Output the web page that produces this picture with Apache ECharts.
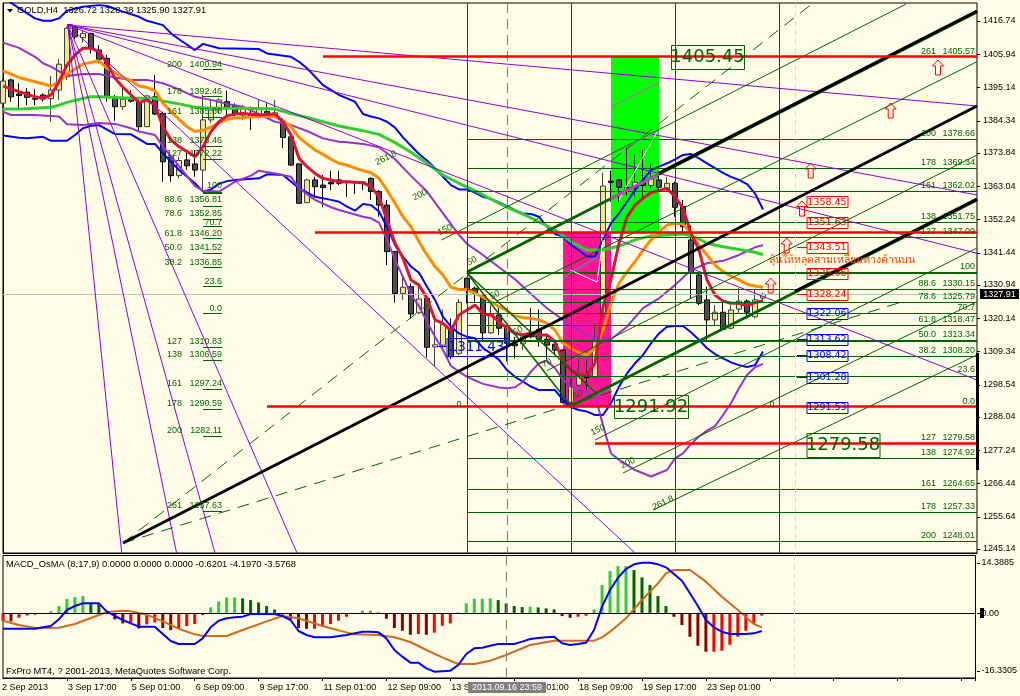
<!DOCTYPE html>
<html>
<head>
<meta charset="utf-8">
<style>html,body{margin:0;padding:0;background:#fffde8}#c{width:1020px;height:696px}</style>
<script src="https://cdn.jsdelivr.net/npm/echarts@6/dist/echarts.min.js"></script>
</head>
<body>
<div id="c"></div>
<script>
// [open, close, low, high], one row per H4 bar
const candles = [
[1390.0,1397.2,1388.4,1398.1],[1397.6,1392.1,1390.5,1398.0],[1393.0,1392.5,1388.4,1396.5],[1393.6,1391.9,1389.4,1394.9],
[1391.5,1391.3,1389.4,1394.5],[1392.7,1391.4,1390.5,1393.2],[1391.5,1394.3,1384.0,1398.9],[1394.3,1402.7,1391.1,1404.3],
[1398.6,1414.4,1397.6,1414.9],[1414.9,1411.6,1410.8,1415.4],[1411.3,1412.7,1409.7,1413.8],[1412.7,1407.9,1406.2,1413.0],
[1407.3,1404.3,1403.0,1408.9],[1404.6,1392.1,1390.5,1405.7],[1391.6,1388.9,1384.3,1392.7],[1388.9,1391.3,1387.8,1395.4],
[1391.5,1390.7,1390.2,1394.3],[1390.5,1382.4,1380.8,1392.1],[1382.4,1392.4,1382.2,1392.7],[1392.1,1386.5,1386.2,1399.2],
[1386.7,1371.0,1364.5,1387.3],[1372.6,1366.5,1364.5,1373.2],[1366.5,1371.4,1365.6,1372.6],[1371.6,1369.7,1368.3,1374.8],
[1370.3,1368.3,1366.1,1374.8],[1368.3,1384.6,1361.3,1392.7],[1384.6,1387.8,1383.5,1391.1],[1387.8,1391.1,1386.7,1391.6],
[1390.5,1388.7,1386.2,1394.1],[1389.1,1386.7,1385.7,1390.0],[1386.2,1388.4,1384.6,1389.4],[1386.7,1385.7,1381.3,1388.9],
[1386.2,1388.4,1385.1,1391.1],[1387.3,1386.2,1385.7,1390.0],[1385.9,1386.9,1385.7,1391.1],[1384.0,1378.9,1375.4,1385.1],
[1379.1,1369.9,1369.7,1380.8],[1370.3,1357.5,1357.4,1370.5],[1357.7,1365.1,1357.5,1365.6],[1365.1,1362.9,1359.6,1366.1],
[1363.4,1362.6,1356.2,1366.7],[1364.3,1363.8,1361.8,1368.1],[1365.1,1364.0,1363.4,1368.1],[1364.4,1364.2,1359.6,1364.5],
[1364.4,1364.2,1360.5,1364.5],[1364.4,1364.2,1361.8,1364.6],[1365.6,1361.3,1358.6,1365.9],[1361.3,1356.9,1353.1,1361.8],
[1356.9,1341.8,1337.4,1358.6],[1341.8,1328.2,1325.2,1342.0],[1328.2,1330.2,1326.1,1333.4],[1330.4,1321.5,1319.9,1331.5],
[1321.9,1326.4,1321.5,1330.9],[1326.6,1310.7,1307.4,1328.2],[1310.8,1311.5,1304.6,1319.6],[1311.4,1318.2,1309.8,1323.0],
[1316.3,1307.6,1306.8,1320.1],[1308.7,1325.3,1308.2,1326.3],[1333.1,1329.6,1325.0,1333.4],[1329.9,1327.9,1325.5,1330.4],
[1327.7,1315.4,1313.1,1328.0],[1315.4,1321.5,1315.0,1324.4],[1321.2,1316.9,1314.7,1324.4],[1317.2,1312.0,1306.0,1317.9],
[1311.8,1311.2,1307.1,1314.1],[1311.8,1314.1,1309.8,1315.2],[1315.0,1314.1,1313.6,1323.4],[1316.5,1313.3,1310.9,1323.0],
[1313.3,1311.4,1306.6,1314.7],[1311.7,1309.8,1308.2,1313.1],[1309.8,1292.8,1292.5,1310.0],[1292.8,1297.9,1292.5,1301.1],
[1298.4,1301.4,1297.9,1307.1],[1301.4,1300.9,1296.8,1306.6],[1301.1,1312.5,1300.6,1318.5],[1321.8,1363.1,1321.0,1367.4],
[1364.7,1364.3,1358.0,1368.1],[1365.1,1362.7,1358.0,1365.3],[1362.6,1361.8,1360.2,1375.4],[1362.4,1364.3,1359.6,1373.2],
[1364.3,1363.3,1359.6,1374.8],[1363.3,1365.4,1362.4,1370.5],[1365.1,1362.7,1361.3,1367.8],[1362.0,1364.0,1361.3,1366.1],
[1364.0,1356.2,1353.1,1364.5],[1356.4,1349.9,1347.7,1358.6],[1345.6,1334.7,1326.6,1350.3],[1334.2,1325.0,1324.4,1334.7],
[1326.1,1319.6,1313.1,1330.4],[1319.6,1322.1,1317.9,1324.4],[1322.1,1316.5,1316.3,1326.1],[1316.9,1322.8,1316.5,1324.4],
[1323.1,1325.7,1321.9,1329.9],[1325.7,1322.1,1320.1,1326.3],[1320.6,1326.1,1320.1,1329.3],[1326.72,1327.91,1325.90,1328.38]
];

// indicator readings as [bar, price]
const maRed = [[0,1395.6],[2,1393.8],[4,1392.1],[5,1391.6],[6,1392.7],[7,1397.0],[8,1402.4],[9,1405.7],[10,1407.9],[11,1407.9],[12,1406.8],[13,1403.0],[14,1398.1],[15,1395.2],[16,1392.7],[17,1390.2],[18,1391.1],[19,1389.4],[20,1382.4],[21,1378.1],[22,1375.9],[23,1374.3],[24,1372.6],[25,1375.9],[26,1380.8],[27,1384.0],[28,1385.9],[29,1386.5],[30,1386.7],[32,1386.2],[34,1386.5],[35,1384.0],[36,1379.7],[37,1372.1],[38,1369.4],[39,1367.2],[40,1365.6],[42,1364.5],[43,1364.5],[45,1364.2],[46,1362.9],[47,1359.6],[48,1352.1],[49,1344.5],[50,1339.6],[51,1332.6],[52,1330.9],[53,1326.6],[54,1319.6],[55,1318.5],[56,1316.1],[57,1321.2],[58,1322.8],[59,1324.4],[60,1321.5],[61,1321.2],[62,1319.0],[63,1316.9],[64,1315.2],[65,1314.7],[66,1315.4],[67,1314.7],[68,1314.7],[69,1312.5],[70,1306.0],[71,1303.3],[72,1301.9],[73,1301.7],[74,1305.5],[75,1323.9],[76,1332.6],[77,1344.5],[78,1353.1],[79,1356.9],[80,1359.1],[81,1361.0],[82,1361.6],[83,1362.4],[84,1359.6],[85,1355.9],[86,1347.7],[87,1342.3],[88,1332.6],[89,1327.7],[90,1325.7],[91,1325.0],[92,1325.0],[93,1324.2],[94,1325.2],[95,1325.8]];
const maOrange = [[0,1400.5],[2,1398.4],[4,1397.0],[6,1395.6],[7,1397.0],[8,1399.5],[9,1401.1],[10,1402.8],[11,1403.3],[12,1403.8],[13,1401.4],[14,1399.9],[15,1398.4],[16,1397.3],[17,1395.6],[18,1395.1],[19,1394.1],[20,1390.0],[21,1387.3],[22,1384.8],[23,1382.4],[24,1380.8],[25,1381.3],[26,1382.2],[27,1383.7],[28,1384.8],[29,1385.3],[30,1385.4],[32,1385.7],[34,1385.7],[35,1384.3],[36,1382.4],[37,1378.9],[38,1376.8],[39,1374.8],[40,1373.4],[41,1371.8],[42,1370.5],[43,1369.9],[44,1368.9],[45,1368.1],[46,1367.4],[47,1365.6],[48,1361.8],[49,1357.5],[50,1353.1],[51,1349.9],[52,1345.0],[53,1340.7],[54,1336.9],[55,1334.2],[56,1330.2],[57,1329.5],[58,1329.5],[59,1328.2],[60,1327.1],[61,1325.5],[62,1323.9],[63,1322.6],[64,1320.9],[65,1320.3],[66,1320.1],[67,1319.6],[68,1318.5],[69,1316.3],[70,1312.0],[71,1310.4],[72,1308.9],[73,1308.2],[74,1310.4],[75,1316.3],[76,1325.0],[77,1331.5],[78,1335.3],[79,1338.5],[80,1342.3],[81,1345.6],[82,1348.3],[83,1350.4],[84,1351.0],[85,1350.8],[86,1347.7],[87,1343.9],[88,1340.7],[89,1337.4],[90,1335.3],[91,1333.9],[92,1332.6],[93,1331.2],[94,1330.6],[95,1330.2]];
const maGreen = [[0,1388.1],[2,1388.1],[4,1388.4],[6,1388.7],[7,1389.4],[8,1390.3],[10,1391.6],[11,1392.1],[12,1392.1],[14,1391.9],[16,1391.6],[19,1391.6],[20,1390.7],[22,1389.8],[24,1388.7],[26,1388.4],[30,1388.4],[34,1388.1],[36,1386.7],[38,1385.4],[40,1384.0],[42,1382.6],[45,1381.1],[47,1379.9],[49,1377.2],[51,1374.1],[53,1370.5],[55,1366.7],[57,1364.0],[59,1361.6],[61,1358.8],[63,1356.2],[65,1354.0],[67,1351.5],[69,1348.8],[71,1345.0],[73,1342.3],[75,1342.3],[77,1343.6],[79,1345.6],[81,1346.9],[83,1347.2],[85,1347.5],[86,1346.9],[87,1345.9],[88,1344.5],[90,1343.4],[92,1342.5],[94,1341.6],[95,1340.8]];
const bandPurpleUp = [[0,1409.7],[2,1408.0],[4,1405.1],[5,1403.0],[6,1401.9],[8,1398.9],[10,1399.5],[12,1399.5],[14,1398.4],[16,1397.6],[18,1397.6],[20,1396.5],[22,1394.5],[24,1392.1],[26,1391.1],[28,1389.8],[30,1388.9],[32,1386.5],[34,1384.0],[36,1382.9],[38,1381.0],[40,1378.6],[42,1377.5],[43,1377.3],[45,1376.8],[47,1375.7],[49,1371.8],[51,1366.4],[53,1361.3],[55,1354.2],[57,1347.2],[58,1344.3],[60,1340.7],[62,1336.7],[64,1332.8],[66,1328.0],[68,1323.4],[70,1319.6],[72,1316.1],[74,1313.6],[75,1313.3],[76,1313.3],[78,1317.4],[80,1323.4],[82,1326.6],[84,1330.9],[86,1335.8],[88,1338.0],[90,1338.8],[92,1340.7],[94,1343.2],[95,1343.9]];
const bandPurpleLow = [[0,1387.3],[1,1386.2],[4,1386.2],[7,1385.7],[8,1383.2],[10,1382.9],[12,1383.6],[14,1383.3],[16,1381.9],[17,1380.8],[19,1379.7],[20,1375.9],[22,1369.6],[24,1363.1],[25,1361.6],[27,1361.3],[29,1364.5],[31,1366.5],[32,1368.1],[34,1367.2],[36,1366.1],[37,1362.4],[39,1358.6],[41,1356.2],[42,1355.3],[43,1354.6],[45,1353.1],[46,1352.6],[47,1351.2],[48,1345.6],[49,1339.1],[50,1333.6],[51,1327.7],[52,1324.1],[53,1319.0],[54,1314.1],[55,1309.8],[56,1304.6],[57,1302.8],[58,1301.1],[60,1298.8],[62,1297.6],[63,1297.4],[64,1297.7],[65,1299.5],[66,1302.8],[67,1305.5],[68,1306.3],[69,1303.9],[70,1300.1],[71,1297.9],[73,1296.1],[74,1295.2],[75,1285.4],[76,1276.2],[77,1274.1],[79,1270.8],[81,1268.7],[83,1270.8],[84,1274.6],[85,1276.2],[86,1279.3],[87,1281.7],[88,1283.6],[89,1285.1],[90,1288.7],[91,1292.5],[92,1297.4],[93,1301.7],[94,1304.2],[95,1305.3]];
const bandBlueUp = [[0,1424.4],[1,1422.7],[2,1420.9],[4,1417.6],[5,1416.8],[6,1416.8],[7,1417.6],[8,1420.1],[10,1421.4],[12,1421.9],[13,1421.6],[15,1419.8],[17,1418.1],[18,1416.8],[20,1415.4],[21,1412.7],[22,1410.8],[24,1407.3],[25,1409.3],[27,1407.9],[32,1407.6],[33,1406.2],[36,1405.1],[37,1403.5],[38,1401.4],[40,1395.9],[42,1392.7],[43,1391.6],[44,1390.5],[45,1386.5],[46,1385.7],[47,1385.1],[48,1384.0],[49,1382.1],[50,1378.9],[51,1376.2],[52,1373.5],[53,1371.4],[54,1368.9],[55,1366.1],[56,1363.4],[57,1362.0],[58,1362.0],[59,1361.0],[60,1359.6],[61,1358.9],[62,1357.8],[63,1356.6],[64,1355.3],[65,1354.2],[66,1354.0],[67,1353.1],[68,1349.9],[69,1347.5],[70,1346.7],[71,1343.9],[72,1342.1],[73,1340.2],[74,1340.2],[75,1345.6],[76,1351.0],[77,1354.2],[78,1358.0],[79,1361.8],[80,1365.1],[81,1368.3],[82,1369.4],[83,1370.5],[84,1371.8],[85,1373.2],[86,1373.5],[87,1372.1],[88,1370.5],[89,1368.9],[90,1367.4],[91,1366.1],[92,1365.1],[93,1363.7],[94,1360.7],[95,1355.5]];
const bandBlueLow = [[0,1379.5],[2,1378.8],[3,1378.6],[5,1379.1],[6,1377.8],[8,1377.8],[9,1379.7],[10,1381.9],[11,1382.7],[12,1382.9],[14,1380.0],[16,1379.9],[18,1376.8],[19,1376.8],[20,1373.7],[22,1368.3],[24,1364.0],[25,1361.3],[26,1362.0],[27,1363.8],[28,1364.7],[29,1365.1],[32,1365.6],[33,1366.9],[35,1366.7],[37,1362.4],[39,1359.6],[41,1358.6],[42,1358.0],[43,1356.4],[44,1355.1],[45,1357.3],[46,1356.9],[47,1354.8],[48,1349.9],[49,1343.9],[50,1340.2],[51,1336.9],[52,1334.9],[53,1330.4],[54,1326.1],[55,1320.6],[56,1317.4],[57,1315.2],[58,1314.1],[59,1313.6],[60,1310.4],[61,1308.7],[62,1306.6],[63,1303.3],[64,1301.1],[65,1299.5],[66,1297.9],[67,1296.8],[69,1296.8],[70,1293.6],[71,1291.2],[72,1290.3],[73,1289.8],[74,1288.7],[75,1288.7],[76,1292.5],[77,1297.9],[78,1302.2],[79,1305.5],[80,1308.2],[81,1312.0],[82,1315.2],[83,1317.4],[84,1317.6],[85,1317.6],[86,1315.6],[87,1313.1],[88,1310.4],[89,1308.5],[90,1307.1],[91,1305.8],[92,1304.9],[93,1304.3],[94,1304.9],[95,1309.3]];

// MACD_OsMA panel
const osma = [-2.08,-2.27,-1.23,-0.57,-0.38,0,0.66,2.08,4.07,4.63,4.92,2.84,2.65,0.28,-1.70,-2.84,-2.65,-4.26,-3.12,-2.55,-4.16,-4.73,-4.16,-3.59,-3.03,-0.47,1.70,3.40,4.54,4.54,4.26,3.78,3.12,2.08,1.13,-0.28,-1.70,-4.16,-4.35,-4.35,-3.78,-3.03,-2.08,-0.95,0,0.85,0.85,0.28,-1.51,-4.16,-4.92,-6.05,-5.86,-6.05,-5.48,-3.50,-2.84,0.28,2.84,4.16,4.16,4.26,3.78,2.84,2.08,1.80,1.89,1.70,1.42,1.13,-0.76,-1.23,-0.95,-0.66,1.13,8.04,12.01,13.43,13.43,12.29,10.21,8.04,4.92,2.08,-0.95,-3.31,-6.62,-9.17,-10.87,-10.87,-10.59,-8.89,-6.62,-4.92,-2.84,-0.62];
const macdLine = [[0,-4.33],[4,-4.33],[5,-3.95],[6,-3.57],[7,-1.68],[8,0.97],[9,2.10],[10,2.86],[12,2.86],[13,0.50],[14,-0.73],[15,-1.87],[16,-2.81],[17,-3.76],[19,-3.76],[20,-5.84],[21,-7.83],[22,-8.68],[24,-8.68],[25,-7.07],[26,-3.95],[27,-2.06],[28,-1.39],[29,-1.11],[30,-0.92],[31,-0.17],[34,-0.17],[35,-0.73],[36,-1.87],[37,-4.99],[38,-6.12],[39,-6.78],[41,-6.78],[43,-6.12],[45,-5.18],[46,-5.18],[47,-5.37],[48,-7.07],[49,-10.38],[50,-12.27],[51,-13.97],[52,-13.97],[53,-15.58],[54,-16.52],[56,-16.24],[57,-14.63],[58,-11.51],[59,-9.91],[60,-9.72],[61,-9.15],[62,-8.68],[64,-8.68],[65,-8.01],[66,-7.26],[67,-6.97],[68,-6.78],[69,-6.60],[70,-8.49],[71,-8.96],[72,-8.68],[73,-8.30],[74,-4.70],[75,1.91],[76,6.64],[77,10.14],[78,12.60],[79,13.92],[80,14.40],[81,14.40],[82,13.92],[83,13.07],[84,11.18],[85,9.29],[86,5.70],[87,2.10],[88,-1.87],[89,-3.95],[90,-5.18],[91,-5.84],[93,-5.84],[94,-5.65],[95,-4.99]];
const macdSignal = [[0,-2.06],[2,-3.29],[4,-4.14],[7,-4.04],[9,-3.00],[11,-1.30],[13,0.40],[15,0.78],[16,0.59],[18,-0.36],[20,-2.25],[22,-4.33],[24,-5.93],[25,-6.41],[28,-6.41],[30,-4.70],[33,-2.25],[35,-0.73],[37,-1.39],[40,-3.57],[43,-5.37],[44,-5.93],[47,-6.12],[49,-6.78],[51,-8.11],[53,-10.38],[55,-12.46],[57,-14.35],[59,-14.35],[61,-13.40],[63,-11.80],[64,-10.85],[66,-8.96],[69,-7.73],[74,-7.73],[75,-6.78],[76,-5.18],[78,-1.39],[80,3.81],[82,8.53],[83,11.37],[84,12.32],[86,12.32],[88,9.01],[90,4.75],[92,0.97],[94,-3.00],[95,-3.95]];

const barTicks = ['2 Sep 2013','3 Sep 17:00','5 Sep 01:00','6 Sep 09:00','9 Sep 17:00','11 Sep 01:00','12 Sep 09:00','13 Sep 17:00','17 Sep 01:00','18 Sep 09:00','19 Sep 17:00','23 Sep 01:00'];
const priceTicks = [1416.74,1405.94,1395.14,1384.34,1373.84,1363.04,1352.24,1341.44,1330.94,1320.14,1309.34,1298.54,1288.04,1277.24,1266.44,1255.64,1245.14];
const macdTicks = [14.3885,0,-16.3305];

// analysis objects in chart units (bar, price)
const lastClose = 1327.91;
const fibLevels = [1378.28,1368.85,1361.27,1351.3,1346.43,1329.53,1325.3,1321.73,1317.72,1307.64,1301.14,1274.6,1264.53,1257.05,1247.52];
const fibThick = [1334.94,1312.84];
const fibStubs = [1401.03,1392.14,1385.32,1376.11,1371.78,1356.62,1352.28,1349.89,1346.1,1341.23,1336.57,1330.61,1321.61,1310.69,1306.46,1297.04,1290.54,1281.86,1257.38];
const fibStubThick = [1360.95];
const redLevels = [[40,1405.36],[39,1348.16],[33,1291.38],[74,1279.59]];
const gridBars = [58,71,84,97];
const fanOrigin = [8.1,1415.44];
const fanEnds = [[121.75,1389.11],[121.75,1360.19],[121.75,1341.24],[121.75,1300.06],[79,1243.84],[36.75,1243.84],[26.5,1243.84],[21.7,1243.84],[14.84,1243.84]];
const channels = [
  [[47.5,1369.94],[87.4,1422.6]],[[51.5,1356.38],[101.5,1422.6]],[[54.8,1345.56],[112.9,1422.26]],
  [[61.75,1325.74],[121.75,1403.51]],[[68,1303.15],[121.75,1373.19]],[[74,1280.56],[121.75,1342.96]],
  [[77.5,1269.83],[121.75,1325.51]],[[81.25,1257.81],[121.75,1308.19]]
];
const pitchGreen = [[[58,1335.16],[121.75,1419.66]],[[71,1291.61],[121.75,1358.56]]];
const pitchBlack = [[[15,1247.08],[121.75,1389.11]],[[82,1367.31],[121.75,1419.96]],[[99,1328.9],[121.75,1358.86]]];
const pitchHandles = [[[58,1334.84],[71,1291.61]],[[58,1334.84],[74,1296.16]]];
const dashedRays = [[[15,1247.08],[101.1,1422.26]],[[15,1247.08],[112.75,1325.74]]];
const magentaBits = [[[76,1359.0],[82,1367.01]],[[76,1388.79],[82,1396.71]],[[76,1373.35],[82,1381.2]]];
const whiteBits = [[[77,1358.56],[81.75,1380.66]],[[70.9,1335.81],[74.25,1331.91]],[[74.25,1331.91],[75,1345.56]]];
const tealBits = [[[70,1320.21],[76,1328.3]],[[71,1291.93],[76,1297.46]],[[70,1333.5],[74.25,1340.0]]];
const greenRect = [[76,1405.36],[82,1348.16]];
const pinkRect = [[70,1348.16],[76,1291.38]];

const PMAX = 1422.59, PMIN = 1243.84, XMAX = 121.75;
const small = '9px "Liberation Sans"', caption = '9.35px "Liberation Sans"';
const GREEN = '#006400', FAN = '#9400d3';

function segs(list, color, width, type) {
  return list.map(s => [
    {coord: s[0], lineStyle: {color: color, width: width, type: type || 'solid'}},
    {coord: s[1]}
  ]);
}
function hsegs(levels, from, to, color, width) {
  return segs(levels.map(p => [[from, p], [to, p]]), color, width);
}
function vsegs(bars, color, width, type) {
  return segs(bars.map(b => [[b, PMAX], [b, PMIN]]), color, width, type);
}
function objects(name, list, z) {
  return {type: 'line', name: name, data: [], xAxisIndex: 0, yAxisIndex: 0, z: z, silent: true,
    markLine: {silent: true, symbol: 'none', animation: false, label: {show: false}, data: list}};
}
function lineSeries(data, color, width, panel, z) {
  return {type: 'line', data: data, xAxisIndex: panel, yAxisIndex: panel, showSymbol: false, symbol: 'none',
    z: z, silent: true, lineStyle: {color: color, width: width}, clip: true};
}

// text sitting on the chart
function label(x, y, text, color, font, align) {
  return {type: 'text', z: 50, silent: true, style: {x: x, y: y, text: text, fill: color, font: font || small, align: align || 'left', verticalAlign: 'middle'}};
}
function box(x0, x1, yc, h, text, color, font) {
  return [
    {type: 'rect', z: 50, silent: true, shape: {x: x0 + .5, y: Math.round(yc - h / 2) + .5, width: x1 - x0, height: h}, style: {fill: 'none', stroke: color, lineWidth: 1}},
    label((x0 + x1) / 2, yc + .5, text, color, font, 'center')
  ];
}
function stub(x0, x1, y, color) {
  return {type: 'line', z: 50, silent: true, shape: {x1: x0, y1: y + .5, x2: x1, y2: y + .5}, style: {stroke: color, lineWidth: 1}};
}
function arrow(cx, top) {
  return {type: 'polygon', z: 50, silent: true, style: {fill: 'none', stroke: '#ff0000', lineWidth: 1},
    shape: {points: [[cx, top], [cx + 5.5, top + 6], [cx + 2.5, top + 6], [cx + 2.5, top + 15], [cx - 2.5, top + 15], [cx - 2.5, top + 6], [cx - 5.5, top + 6]]}};
}

const leftFib = [
  ['200','1400.94',65],['178','1392.46',91.7],['161','1385.80',111.7],['138','1376.46',141],['127','1372.22',153.3],
  ['88.6','1356.81',200],['78.6','1352.85',213.3],['61.8','1346.20',233.3],['50.0','1341.52',247.7],['38.2','1336.85',262.3],
  ['127','1310.83',341.7],['138','1306.59',354.3],['161','1297.24',383.7],['178','1290.59',403.3],['200','1282.11',430.7],['261','1257.63',505.7]
];
const leftFibShort = [['100',186],['70.7',222.7],['23.6',281.7],['0.0',308.3]];
const rightFib = [
  ['261','1405.57',51.7],['200','1378.66',133.3],['178','1369.34',162.3],['161','1362.02',185.7],['138','1351.75',216.7],['127','1347.09',231.7],
  ['88.6','1330.15',283.3],['78.6','1325.79',296.7],['61.8','1318.47',319.3],['50.0','1313.34',334.7],['38.2','1308.20',350.7],
  ['127','1279.58',437.3],['138','1274.92',452.3],['161','1264.65',483.7],['178','1257.33',506.7],['200','1248.01',535.7]
];
const rightFibShort = [['100',266.7],['70.7',307.7],['23.6',370],['0.0',401.7]];
const slopeLabels = [['261.8',386,158],['200',420,195],['150',445,230],['50',472,261],['50',495,295],['50',518,331],['70',547,363],['50',578,395],['150',598,430],['200',628,463],['261.8',663,503]];
const redBoxes = [['1358.45',201.7],['1351.63',222.5],['1343.51',247.5],['1335.06',273.5],['1328.24',294.2]];
const blueBoxes = [['1322.06',313.3],['1313.62',339.5],['1308.42',355.5],['1301.28',377.3],['1291.53',407.5]];
const arrows = [[938,60],[890.7,103],[810.7,163],[802,201],[786.7,238],[770.7,278]];

const big = '18px "DejaVu Sans"', mid = '9.5px "DejaVu Sans"';
const g = [];
leftFib.forEach(r => { g.push(label(182, r[2], r[0], GREEN, small, 'right'), label(222, r[2], r[1], GREEN, small, 'right')); });
leftFibShort.forEach(r => g.push(label(222, r[1], r[0], GREEN, small, 'right')));
rightFib.forEach(r => { g.push(label(936, r[2], r[0], GREEN, small, 'right'), label(975, r[2], r[1], GREEN, small, 'right')); });
rightFibShort.forEach(r => g.push(label(975, r[1], r[0], GREEN, small, 'right')));
slopeLabels.forEach(r => { const t = label(0, 0, r[0], GREEN, small, 'center'); t.rotation = 0.45; t.x = r[1]; t.y = r[2]; g.push(t); });
redBoxes.forEach(r => g.push(...box(806.5, 847.5, r[1], 11, r[0], '#ff0000', mid)));
blueBoxes.forEach(r => g.push(...box(806.5, 847.5, r[1], 11, r[0], '#0000ff', mid)));
g.push(...box(671, 744, 56.5, 24, '1405.45', GREEN, big));
g.push(...box(614, 688, 406.5, 23, '1291.92', GREEN, big));
g.push(...box(806.5, 879.5, 444.5, 24, '1279.58', GREEN, big));
g.push(...box(446.5, 506.5, 346.5, 18, '1311.43', '#0000ff', '13.5px "DejaVu Sans"'));
g.push(stub(437, 447, 346, '#0000ff'), stub(797, 807, 247, '#ff0000'), stub(797, 807, 294, '#ff0000'), stub(797, 807, 206, '#ff0000'),
  stub(797, 807, 339, '#0000ff'), stub(797, 807, 355, '#0000ff'), stub(797, 807, 377, '#0000ff'), stub(797, 807, 443, GREEN));
arrows.forEach(a => g.push(arrow(a[0], a[1])));
g.push(label(769, 260, 'ลุ้นให้หลุดสามเหลี่ยมทางด้านบน', '#ff4500', '10.6px "Noto Sans", "DejaVu Sans", sans-serif'));
g.push(label(459, 405, '0', GREEN, small, 'center'), label(772, 405, '0', GREEN, small, 'center'));
// fan anchor
g.push({type: 'polygon', z: 50, silent: true, style: {fill: 'none', stroke: FAN, lineWidth: 1}, shape: {points: [[67, 24.5], [72.5, 24.5], [69, 30]]}});
// header, panel captions
g.push({type: 'polygon', z: 50, silent: true, style: {fill: '#000'}, shape: {points: [[7, 9], [13, 9], [10, 12.5]]}});
g.push(label(17, 10.5, 'GOLD,H4  1326.72 1328.38 1325.90 1327.91', '#000', caption));
g.push(label(6, 564.5, 'MACD_OsMA (8,17,9) 0.0000 0.0000 0.0000 -0.6201 -4.1970 -3.5768', '#000', caption));
g.push(label(6, 671, 'FxPro MT4, ? 2001-2013, MetaQuotes Software Corp.', '#000', caption));
// price tag, axis bar, crosshair date, first date label
g.push({type: 'rect', z: 50, silent: true, shape: {x: 980, y: 289, width: 39, height: 10}, style: {fill: '#000'}});
g.push(label(999.5, 294.5, lastClose.toFixed(2), '#fff', small, 'center'));
g.push({type: 'rect', z: 50, silent: true, shape: {x: 976, y: 353, width: 3, height: 117}, style: {fill: '#000'}});
g.push({type: 'rect', z: 50, silent: true, shape: {x: 980, y: 608, width: 4, height: 10}, style: {fill: '#000'}});
g.push({type: 'rect', z: 50, silent: true, shape: {x: 468, y: 682, width: 78, height: 11}, style: {fill: '#808080'}});
g.push(label(507, 687.5, '2013.09.16 23:59', '#fff', small, 'center'));
g.push(label(2, 687.5, barTicks[0], '#000', small));

const axisFont = {color: '#000', fontFamily: 'Liberation Sans', fontSize: 9};
const option = {
  animation: false,
  backgroundColor: '#fffde8',
  grid: [
    {left: 3, top: 3, width: 974, height: 550, show: true, borderColor: '#000', borderWidth: 1, backgroundColor: 'transparent'},
    {left: 3, top: 555.5, width: 974, height: 122.5, show: true, borderColor: '#000', borderWidth: 1, backgroundColor: 'transparent'}
  ],
  xAxis: [
    {type: 'value', gridIndex: 0, min: 0, max: XMAX, interval: 8, axisLabel: {show: false}, axisTick: {show: false}, splitLine: {show: false}, axisLine: {onZero: false, lineStyle: {color: '#000'}}},
    {type: 'value', gridIndex: 1, min: 0, max: XMAX, interval: 8, splitLine: {show: false}, axisLine: {onZero: false, lineStyle: {color: '#000'}},
      axisTick: {length: 3, lineStyle: {color: '#000'}},
      axisLabel: Object.assign({align: 'left', margin: 5, showMinLabel: false, padding: [0, 0, 0, 1], formatter: v => (v > 0 && barTicks[v / 8]) || ''}, axisFont)}
  ],
  yAxis: [
    {type: 'value', gridIndex: 0, position: 'right', min: PMIN, max: PMAX, splitLine: {show: false}, axisLine: {lineStyle: {color: '#000'}},
      axisTick: {show: false},
      axisLabel: Object.assign({customValues: priceTicks, margin: 6, formatter: v => v.toFixed(2)}, axisFont)},
    {type: 'value', gridIndex: 1, position: 'right', min: -18.32, max: 16.43, splitLine: {show: false}, axisLine: {onZero: false, lineStyle: {color: '#000'}},
      axisTick: {show: false},
      axisLabel: Object.assign({customValues: macdTicks, margin: 6, formatter: v => v === 0 ? '0.00' : v.toFixed(4)}, axisFont)}
  ],
  series: [
    {type: 'line', name: 'rects', data: [], xAxisIndex: 0, yAxisIndex: 0, z: 1, silent: true,
      markArea: {silent: true, animation: false, data: [
        [{coord: greenRect[0], itemStyle: {color: '#00ff00', opacity: 1}}, {coord: greenRect[1]}],
        [{coord: pinkRect[0], itemStyle: {color: '#ff1493', opacity: 1}}, {coord: pinkRect[1]}]
      ]}},
    objects('levels', hsegs(fibLevels, 58, XMAX, GREEN, 1)
      .concat(hsegs(fibThick, 58, XMAX, GREEN, 2))
      .concat(hsegs(fibStubs, 25, 27.4, GREEN, 1))
      .concat(hsegs(fibStubThick, 25, 27.4, GREEN, 2))
      .concat(segs([[[0, lastClose], [XMAX, lastClose]]], '#c0c0c0', 1))
      .concat(vsegs(gridBars, GREEN, 1))
      .concat(vsegs([63], '#808080', 1, [10, 6]))
      .concat(vsegs([99], '#d8d8d8', 1, [5, 4])), 2),
    {type: 'candlestick', xAxisIndex: 0, yAxisIndex: 0, z: 3, silent: true, barWidth: 5,
      encode: {x: 0, y: [1, 2, 3, 4]},
      data: candles.map((c, i) => [i].concat(c)),
      itemStyle: {color: '#f0e68c', color0: '#505050', borderColor: '#404040', borderColor0: '#000', borderWidth: 1}},
    lineSeries(bandBlueUp, '#0000ff', 2, 0, 4),
    lineSeries(bandBlueLow, '#0000ff', 2, 0, 4),
    lineSeries(bandPurpleUp, '#9932cc', 2, 0, 4),
    lineSeries(bandPurpleLow, '#9932cc', 2, 0, 4),
    lineSeries(maGreen, '#32cd32', 3, 0, 4),
    lineSeries(maOrange, '#ff8c00', 3, 0, 4),
    lineSeries(maRed, '#dc143c', 3, 0, 4),
    objects('fan', segs(fanEnds.map(e => [fanOrigin, e]), FAN, 1), 5),
    objects('channels', segs(channels, GREEN, 1)
      .concat(segs(dashedRays, GREEN, 1, [12, 8]))
      .concat(segs(pitchHandles, GREEN, 1.5))
      .concat(segs(magentaBits.slice(1), '#e040e0', 1))
      .concat(segs(whiteBits, '#ffffff', 1))
      .concat(segs(tealBits, '#00c8a0', 1)), 5),
    objects('pitchfork', segs(pitchGreen, GREEN, 3)
      .concat(segs(pitchBlack, '#000000', 3))
      .concat(segs(magentaBits.slice(0, 1), '#d040d0', 2.5)), 6),
    objects('red', segs(redLevels.map(r => [[r[0], r[1]], [XMAX, r[1]]]), '#ff0000', 2.5), 7),

    {type: 'bar', xAxisIndex: 1, yAxisIndex: 1, z: 3, silent: true, barWidth: 3,
      data: osma.map((v, i) => {
        const prev = i ? osma[i - 1] : v;
        const col = v > 0 ? (v >= prev ? '#32cd32' : '#006400') : (v < prev ? '#8b0000' : '#ff0000');
        return {value: [i, v], itemStyle: {color: col}};
      })},
    lineSeries(macdSignal, '#d2691e', 2, 1, 4),
    lineSeries(macdLine, '#0000ff', 2, 1, 5),
    {type: 'line', data: [], xAxisIndex: 1, yAxisIndex: 1, z: 6, silent: true,
      markLine: {silent: true, symbol: 'none', animation: false, label: {show: false}, data: [
        [{coord: [0, 0], lineStyle: {color: '#000', width: 1, type: 'solid'}}, {coord: [XMAX, 0]}],
        [{coord: [63, 16.43], lineStyle: {color: '#808080', width: 1, type: [10, 6]}}, {coord: [63, -18.32]}],
        [{coord: [99, 16.43], lineStyle: {color: '#d8d8d8', width: 1, type: [5, 4]}}, {coord: [99, -18.32]}]
      ]}}
  ]
};
const chart = echarts.init(document.getElementById('c'), null, {renderer: 'canvas'});
chart.setOption(option);
// outward ticks on the price and MACD scales
priceTicks.forEach(v => {
  const y = Math.round(chart.convertToPixel({yAxisIndex: 0}, v));
  g.push(stub(977, 980, y, '#000'));
});
macdTicks.forEach(v => {
  const y = Math.round(chart.convertToPixel({yAxisIndex: 1}, v));
  g.push(stub(977, 980, y, '#000'));
});
chart.setOption({graphic: {elements: g}});
</script>
</body>
</html>
